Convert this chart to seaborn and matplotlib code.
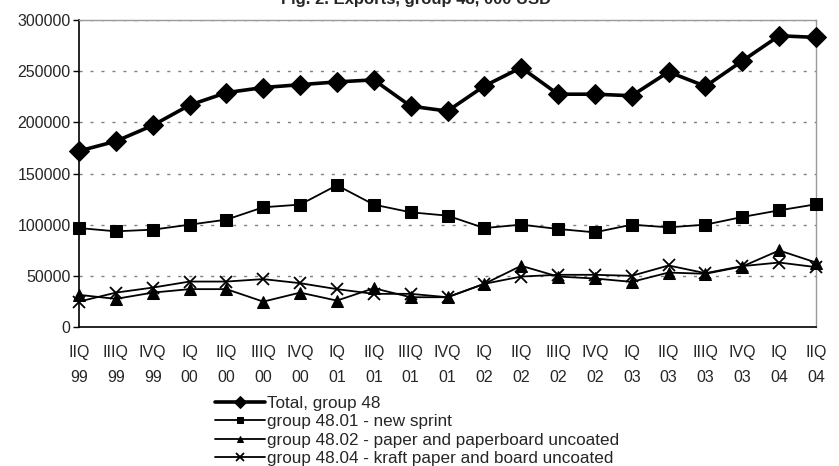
import numpy as np
import pandas as pd
import matplotlib
matplotlib.use('Agg')
import matplotlib.pyplot as plt
import seaborn as sns

# quarter labels (two-line: quarter / year)
quarters = ['IIQ', 'IIIQ', 'IVQ', 'IQ', 'IIQ', 'IIIQ', 'IVQ', 'IQ', 'IIQ', 'IIIQ', 'IVQ',
            'IQ', 'IIQ', 'IIIQ', 'IVQ', 'IQ', 'IIQ', 'IIIQ', 'IVQ', 'IQ', 'IIQ']
years = ['99', '99', '99', '00', '00', '00', '00', '01', '01', '01', '01',
         '02', '02', '02', '02', '03', '03', '03', '03', '04', '04']

total = [172000, 181500, 197000, 216800, 229000, 234000, 236800, 239500, 241500, 215800, 211000,
         235500, 253500, 227500, 227500, 226000, 249300, 235200, 260000, 284600, 283000]
newsprint = [96700, 93500, 95100, 100000, 104900, 117000, 119600, 138500, 119600, 112100, 108800,
             96700, 100000, 95800, 92500, 100000, 97400, 100000, 107500, 114000, 119900]
paper_uncoated = [31400, 27500, 33600, 37000, 37000, 24800, 33600, 25800, 37900, 29100, 29100,
                  42200, 59800, 49300, 47400, 44100, 53200, 52000, 59100, 74800, 63000]
kraft = [24800, 33600, 38500, 44400, 44400, 46800, 42800, 37000, 32400, 32400, 29100,
         42200, 49300, 51000, 51000, 50000, 60100, 52600, 59500, 63000, 58500]

series_names = ['Total, group 48', 'group 48.01 - new sprint',
                'group 48.02 - paper and paperboard uncoated',
                'group 48.04 - kraft paper and board uncoated']

sns.set_style('white')
plt.rcParams['font.family'] = ['Liberation Sans', 'DejaVu Sans']

fig = plt.figure(figsize=(8.39, 4.66), dpi=100)
ax = fig.add_axes([79 / 839, 1 - 327 / 466, (816 - 79) / 839, (327 - 20) / 466])

pos = np.arange(len(quarters))
styles = [
    dict(marker='D', markersize=10, linewidth=2.6),
    dict(marker='s', markersize=8, linewidth=1.3),
    dict(marker='^', markersize=8, linewidth=1.3),
    dict(marker='x', markersize=9, linewidth=1.3, markeredgewidth=1.3),
]
for name, vals, st in zip(series_names, [total, newsprint, paper_uncoated, kraft], styles):
    sns.lineplot(x=pos, y=vals, ax=ax, color='black', label=name, clip_on=False,
                 markeredgecolor='black', zorder=3, **st)

ax.set_xlim(0, 20)
ax.set_ylim(0, 300000)
ax.set_yticks(np.arange(0, 300001, 50000))
ax.set_xticks(pos)
ax.set_xticklabels([q + '\n' + y for q, y in zip(quarters, years)], linespacing=1.85)
ax.tick_params(axis='x', direction='inout', length=7, width=1, color='black',
               labelsize=11.5, pad=9.5)
ax.tick_params(axis='y', direction='out', length=4, width=1, color='black',
               labelsize=11.5, pad=2, left=True)

# dashed grey gridlines
for y in range(50000, 300001, 50000):
    ax.axhline(y, color='#808080', linewidth=1, linestyle=(0, (2.2, 5.7)), zorder=1)

ax.spines['left'].set_color('black')
ax.spines['bottom'].set_color('black')
ax.spines['left'].set_linewidth(1.2)
ax.spines['bottom'].set_linewidth(1.2)
ax.spines['top'].set_color('#999999')
ax.spines['right'].set_color('#999999')
ax.spines['top'].set_linewidth(1)
ax.spines['right'].set_linewidth(1)
ax.set_xlabel('')
ax.set_ylabel('')

ax.get_legend().remove()
handles, labels = ax.get_legend_handles_labels()
fig.legend(handles, labels, loc='upper left', bbox_to_anchor=(215 / 839, 1 - 396 / 466),
           frameon=False, fontsize=12.3, handlelength=2.9, handletextpad=0.15,
           labelspacing=0.2, borderpad=0, borderaxespad=0, markerscale=0.62)

fig.text(416 / 839, 1 - 4 / 466, 'Fig. 2. Exports, group 48, 000 USD', ha='center',
         va='baseline', fontsize=12, fontweight='bold')

fig.savefig('out.png', dpi=100)
